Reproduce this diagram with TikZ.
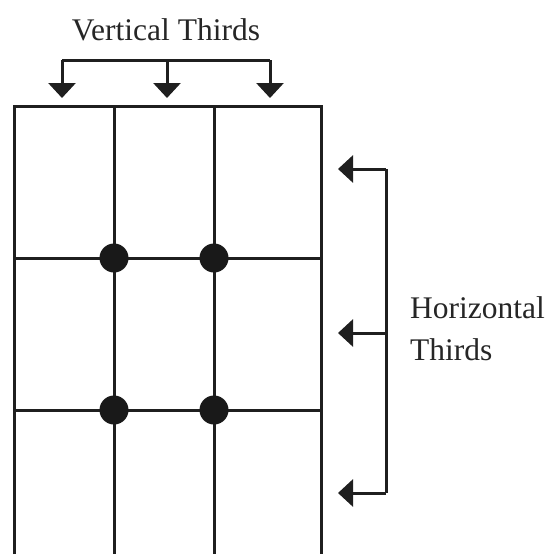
\documentclass[tikz,border=0pt]{standalone}
\usepackage{fontspec}
\setmainfont{Liberation Serif}
\usetikzlibrary{arrows.meta}
\begin{document}
\begin{tikzpicture}[x=1pt,y=-1pt,
  gridline/.style={line width=3pt,line join=miter,color=black!88},
  bracket/.style={line width=3pt,color=black!88},
  pointer/.style={line width=3pt,color=black!88,-{Triangle[width=27pt,length=15pt]}},
  thirddot/.style={circle,fill=black!90,minimum size=29pt,inner sep=0pt},
  caption/.style={font=\fontsize{31.5}{38}\selectfont,text=black!85,inner sep=0pt}]
\useasboundingbox (0,0) rectangle (559,554);
% grid
\draw[gridline] (14,554) -- (14,106) -- (321,106) -- (321,554);
\draw[gridline] (114,106) -- (114,554);
\draw[gridline] (214,106) -- (214,554);
\draw[gridline] (14,258) -- (321,258);
\draw[gridline] (14,410) -- (321,410);
% intersection points
\node[thirddot] (d11) at (114,258) {};
\node[thirddot] (d12) at (214,258) {};
\node[thirddot] (d21) at (114,410) {};
\node[thirddot] (d22) at (214,410) {};
% top bracket
\coordinate (ta) at (62,60);
\coordinate (tb) at (167,60);
\coordinate (tc) at (270,60);
\coordinate (ea) at (62,98);
\coordinate (eb) at (167,98);
\coordinate (ec) at (270,98);
\draw[bracket] (ta) -- (tc);
\draw[pointer] (ta) -- (ea);
\draw[pointer] (tb) -- (eb);
\draw[pointer] (tc) -- (ec);
% right bracket
\coordinate (ra) at (386,169);
\coordinate (rb) at (386,333);
\coordinate (rc) at (386,493);
\coordinate (fa) at (338,169);
\coordinate (fb) at (338,333);
\coordinate (fc) at (338,493);
\draw[bracket] (ra) -- (rc);
\draw[pointer] (ra) -- (fa);
\draw[pointer] (rb) -- (fb);
\draw[pointer] (rc) -- (fc);
% labels
\node[caption,anchor=base] (vt) at (166,40) {Vertical Thirds};
\node[caption,anchor=base west] (ht1) at (410,318) {Horizontal};
\node[caption,anchor=base west] (ht2) at (410,360) {Thirds};
\end{tikzpicture}
\end{document}
